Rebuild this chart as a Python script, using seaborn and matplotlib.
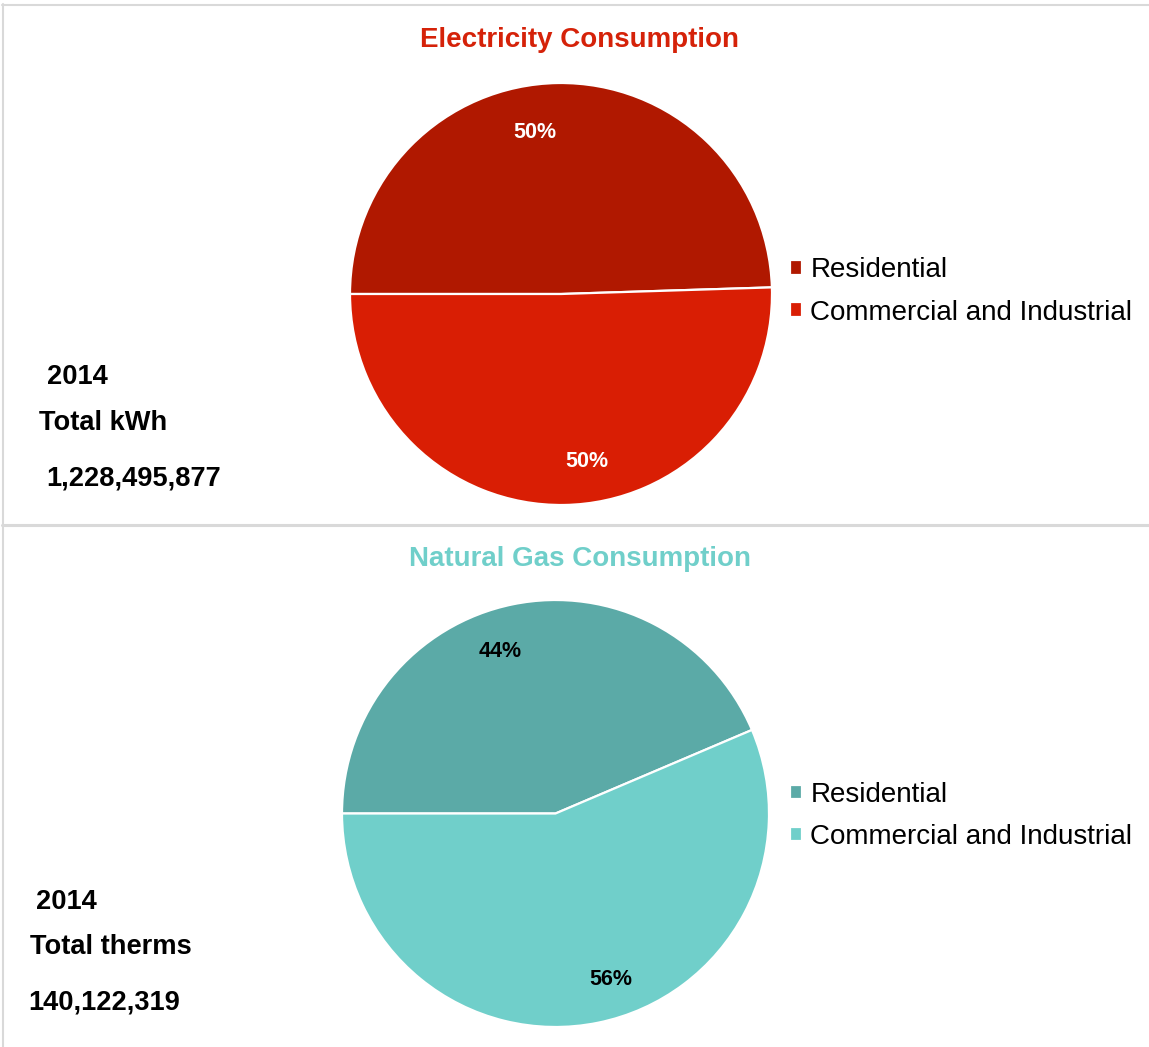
import numpy as np
import matplotlib
matplotlib.use("Agg")
import matplotlib.pyplot as plt
import seaborn as sns
from matplotlib.lines import Line2D

# ---- data ----
categories = ["Residential", "Commercial and Industrial"]
elec_share = [49.5, 50.5]
elec_labels = ["50%", "50%"]
gas_share = [43.6, 56.4]
gas_labels = ["44%", "56%"]
year = "2014"
elec_total_label = "Total kWh"
elec_total = "1,228,495,877"
gas_total_label = "Total therms"
gas_total = "140,122,319"

elec_colors = ["#B01800", "#D91E04"]
gas_colors = ["#5BAAA7", "#70CFCA"]

sns.set_theme(style="white")
plt.rcParams["font.family"] = ["Liberation Sans", "DejaVu Sans"]

W, H = 1149, 1047
fig = plt.figure(figsize=(W / 100, H / 100), dpi=100)
fig.patch.set_facecolor("white")


def px_axes(cx, cy, r):
    return fig.add_axes([(cx - r) / W, 1 - (cy + r) / H, 2 * r / W, 2 * r / H])


def draw_pie(ax, shares, labels, colors, txt_color, offset_deg=8, dist=0.79, dy=-0.015):
    wedges, _ = ax.pie(shares, colors=colors, startangle=180, counterclock=False,
                       wedgeprops=dict(edgecolor="white", linewidth=1.6))
    for w, lab in zip(wedges, labels):
        mid = np.deg2rad((w.theta1 + w.theta2) / 2 + offset_deg)
        ax.text(dist * np.cos(mid), dist * np.sin(mid) + dy, lab, ha="center", va="center",
                fontsize=15.5, fontweight="bold", color=txt_color)
    ax.set_xlim(-1, 1)
    ax.set_ylim(-1, 1)
    ax.set_axis_off()
    return wedges


def add_legend(wedges, cy):
    fig.legend(wedges, categories, loc="center left", bbox_to_anchor=(790 / W, 1 - cy / H),
               bbox_transform=fig.transFigure, frameon=False, fontsize=20,
               handlelength=0.43, handleheight=0.43, handletextpad=0.3,
               labelspacing=0.58, borderpad=0, borderaxespad=0, labelcolor="black")


# top pie
ax1 = px_axes(561, 294, 211)
w1 = draw_pie(ax1, elec_share, elec_labels, elec_colors, "white")
add_legend(w1, 291.5)

# bottom pie
ax2 = px_axes(555.5, 813.5, 213.5)
w2 = draw_pie(ax2, gas_share, gas_labels, gas_colors, "black", offset_deg=7, dist=0.81, dy=-0.01)
add_legend(w2, 816)

# titles
fig.text(580 / W, 1 - 40 / H, "Electricity Consumption", ha="center", va="center",
         fontsize=20, fontweight="bold", color="#D52209")
fig.text(580 / W, 1 - 559 / H, "Natural Gas Consumption", ha="center", va="center",
         fontsize=20, fontweight="bold", color="#70CFCA")

# side texts
def side(x, y, s):
    fig.text(x / W, 1 - (y + 3) / H, s, ha="left", va="center", fontsize=19.6,
             fontweight="bold", color="black")

side(47, 374, year)
side(39, 420, elec_total_label)
side(46, 475, elec_total)
side(36, 899, year)
side(30, 944, gas_total_label)
side(28, 999, gas_total)

# frame lines
gray = "#D9D9D9"
fig.add_artist(Line2D([2.5 / W, 2.5 / W], [0, 1 - 4 / H], transform=fig.transFigure,
                      color=gray, linewidth=1.5))
fig.add_artist(Line2D([2 / W, 1], [1 - 4.5 / H, 1 - 4.5 / H], transform=fig.transFigure,
                      color=gray, linewidth=1.5))
fig.add_artist(Line2D([2 / W, 1], [1 - 524.5 / H, 1 - 524.5 / H], transform=fig.transFigure,
                      color=gray, linewidth=2.2))

fig.savefig("out.png", dpi=100, facecolor="white")
